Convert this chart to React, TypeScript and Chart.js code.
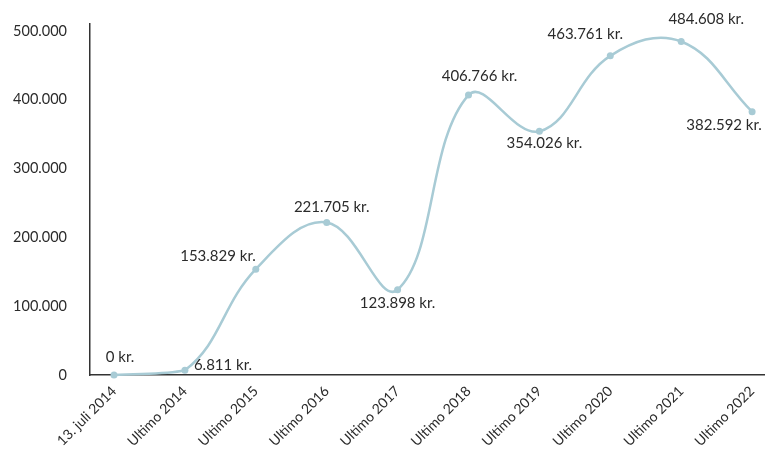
import React, { useEffect, useRef } from "react";
import { Chart, registerables } from "chart.js";

Chart.register(...registerables);

const categories: string[] = [
  "13. juli 2014",
  "Ultimo 2014",
  "Ultimo 2015",
  "Ultimo 2016",
  "Ultimo 2017",
  "Ultimo 2018",
  "Ultimo 2019",
  "Ultimo 2020",
  "Ultimo 2021",
  "Ultimo 2022",
];

const values: number[] = [0, 6811, 153829, 221705, 123898, 406766, 354026, 463761, 484608, 382592];

const yTicks: number[] = [0, 100000, 200000, 300000, 400000, 500000];

const fmt = (v: number) => String(Math.round(v)).replace(/\B(?=(\d{3})+(?!\d))/g, ".");

const LINE = "#a8cbd5";
const TEXT = "#2b2b2b";
const FONT = "Lato, 'Noto Sans', sans-serif";

const labelPlugin = {
  id: "pointLabels",
  afterDatasetsDraw(chart: any, _args: any, opts: any) {
    const meta = chart.getDatasetMeta(0);
    const ctx = chart.ctx;
    ctx.save();
    ctx.font = `15px ${FONT}`;
    ctx.fillStyle = TEXT;
    ctx.textBaseline = "middle";
    meta.data.forEach((pt: any, i: number) => {
      const o = opts.offsets[i];
      ctx.textAlign = o[2];
      ctx.fillText(fmt(values[i]) + " kr.", pt.x + o[0], pt.y + o[1]);
    });
    ctx.restore();
  },
};

const zeroPad = (s: any) => {
  s.paddingLeft = 0;
  s.paddingRight = 0;
  s.paddingTop = 0;
  s.paddingBottom = 0;
};

export default function App() {
  const ref = useRef<HTMLCanvasElement | null>(null);
  useEffect(() => {
    if (!ref.current) return;
    const chart = new Chart(ref.current, {
      type: "line",
      data: {
        datasets: [
          {
            data: values.map((v, i) => ({ x: i, y: v })),
            borderColor: LINE,
            backgroundColor: LINE,
            borderWidth: 2.5,
            tension: 0.4,
            pointRadius: 3.5,
            pointBorderWidth: 0,
            pointBackgroundColor: LINE,
            clip: false as any,
            fill: false,
          },
        ],
      },
      options: {
        animation: false,
        responsive: false,
        maintainAspectRatio: false,
        layout: { autoPadding: false, padding: { top: 24, right: 0, left: 0, bottom: 0 } },
        plugins: {
          legend: { display: false },
          tooltip: { enabled: false },
          pointLabels: {
            offsets: [
              [6, -18, "center"],
              [9, -5, "left"],
              [0, -13, "right"],
              [5, -15, "center"],
              [0, 13, "center"],
              [11, -19, "center"],
              [5, 12, "center"],
              [-25, -22, "center"],
              [25, -22, "center"],
              [-28, 13, "center"],
            ],
          },
        } as any,
        scales: {
          x: {
            type: "linear",
            min: -0.3385,
            max: 9.182,
            grid: { display: false, drawTicks: false },
            border: { display: true, color: "#333", width: 1.5 },
            afterFit: (s: any) => {
              s.height = 74;
              zeroPad(s);
            },
            ticks: {
              stepSize: 1,
              includeBounds: false,
              autoSkip: false,
              maxRotation: 45,
              minRotation: 45,
              padding: 8,
              color: TEXT,
              font: { family: FONT, size: 14 },
              callback: (v: any) => categories[v as number] ?? "",
            },
          },
          y: {
            type: "linear",
            min: 0,
            max: 510000,
            grid: { display: false, drawTicks: false },
            border: { display: true, color: "#333", width: 1.5 },
            afterFit: (s: any) => {
              s.width = 90;
              zeroPad(s);
            },
            afterBuildTicks: (s: any) => {
              s.ticks = yTicks.map((v) => ({ value: v }));
            },
            ticks: {
              includeBounds: false,
              padding: 23,
              color: TEXT,
              font: { family: FONT, size: 14.5 },
              callback: (v: any) => fmt(Number(v)),
            },
          },
        },
      },
      plugins: [labelPlugin],
    });
    return () => chart.destroy();
  }, []);
  return (
    <div style={{ position: "fixed", left: 0, top: 0, width: 765, height: 449, background: "#fff" }}>
      <canvas ref={ref} width={765} height={449} style={{ width: 765, height: 449 }} />
    </div>
  );
}
